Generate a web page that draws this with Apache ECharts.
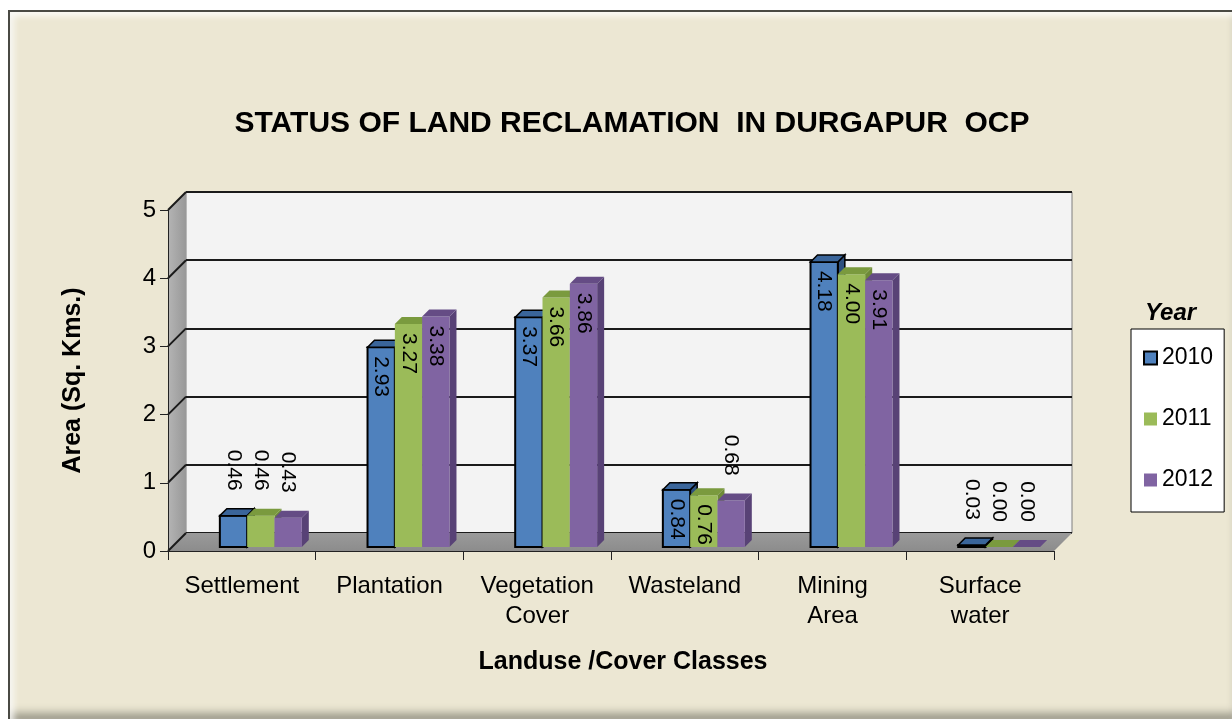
<!DOCTYPE html>
<html>
<head>
<meta charset="utf-8">
<script src="https://cdn.jsdelivr.net/npm/echarts@6/dist/echarts.min.js"></script>
<style>
  html, body { margin: 0; padding: 0; background: #fff; }
  #frame {
    position: absolute; left: 8px; top: 10px; width: 1224px; height: 709px;
    box-sizing: border-box;
    background: #ECE7D3;
    border-top: 2px solid #4a4a44; border-left: 2px solid #4a4a44;
    box-shadow: inset 4px 4px 6px rgba(255,255,255,0.8), inset 0 -10px 8px -4px rgba(60,60,50,0.45);
  }
  #main { position: absolute; left: 0; top: 0; width: 1232px; height: 719px; }
</style>
</head>
<body>
<div id="frame"></div>
<div id="main"></div>
<script>
// data
const categories = ['Settlement', 'Plantation', 'Vegetation\nCover', 'Wasteland', 'Mining\nArea', 'Surface\nwater']
const years = ['2010', '2011', '2012']
const area2010 = [0.46, 2.93, 3.37, 0.84, 4.18, 0.03]
const area2011 = [0.46, 3.27, 3.66, 0.76, 4.0, 0.0]
const area2012 = [0.43, 3.38, 3.86, 0.68, 3.91, 0.0]
const yMin = 0, yMax = 5, yStep = 1

// layout of the 3d box (front plane, back wall is shifted by DEPTH)
const FRONT = { left: 168, top: 210, width: 886, height: 341 }
const DEPTH = 18
const FONT = 'Arial, "Liberation Sans", sans-serif'

// face colours: front, top, side
const palette = [
  { front: '#4F81BD', top: '#3A659A', side: '#2E5180', stroke: '#000' },
  { front: '#9BBB59', top: '#7A9A3E', side: '#6E8A38', stroke: null },
  { front: '#8064A2', top: '#654C85', side: '#584276', stroke: null },
]

function makeRender(k) {
  const c = palette[k]
  return function (params, api) {
    const cat = api.value(0)
    const v = api.value(1)
    const base = api.coord([cat, 0])
    const top = api.coord([cat, v])
    const band = api.size([1, 0])[0]
    const w = band * 0.185
    const d = 7
    const x0 = base[0] + 19 - 1.5 * w + k * w
    const yb = base[1] - 4
    const yt = top[1] - 4
    const children = []
    // side face
    children.push({ type: 'polygon', shape: { points: [[x0 + w, yt], [x0 + w + d, yt - d], [x0 + w + d, yb - d], [x0 + w, yb]] },
      style: { fill: c.side, stroke: c.stroke, lineWidth: c.stroke ? 1.5 : 0 } })
    // front face
    children.push({ type: 'rect', shape: { x: x0, y: yt, width: w, height: yb - yt },
      style: { fill: c.front, stroke: c.stroke, lineWidth: c.stroke ? 2 : 0 } })
    // top face
    children.push({ type: 'polygon', shape: { points: [[x0, yt], [x0 + d, yt - d], [x0 + w + d, yt - d], [x0 + w, yt]] },
      style: { fill: c.top, stroke: c.stroke, lineWidth: c.stroke ? 1.5 : 0 } })
    // value label, vertical, reading top to bottom
    const outside = v < 0.7
    children.push({
      type: 'text',
      x: x0 + w / 2,
      y: outside ? yt - 25 : yt + 9,
      rotation: -Math.PI / 2,
      style: {
        text: v.toFixed(2), fill: '#000', font: '21px ' + FONT,
        align: outside ? 'right' : 'left', verticalAlign: 'middle',
        textAlign: outside ? 'right' : 'left', textVerticalAlign: 'middle',
      },
    })
    return { type: 'group', children: children }
  }
}

const seriesData = [area2010, area2011, area2012]

const chart = echarts.init(document.getElementById('main'))
const option = {
  backgroundColor: 'transparent',
  animation: false,
  textStyle: { fontFamily: FONT },
  title: [
    {
      text: 'STATUS OF LAND RECLAMATION  IN DURGAPUR  OCP',
      left: 627, top: 104, textAlign: 'center',
      textStyle: { fontSize: 30, fontWeight: 'bold', color: '#000', fontFamily: FONT },
    },
    {
      text: 'Year', left: 1140, top: 296,
      textStyle: { fontSize: 24, fontWeight: 'bold', fontStyle: 'italic', color: '#000', fontFamily: FONT },
    },
  ],
  legend: {
    orient: 'vertical',
    left: 1131, top: 329,
    backgroundColor: '#fff', borderColor: '#000', borderWidth: 1,
    padding: [17, 11, 20, 12],
    itemWidth: 13, itemHeight: 13, itemGap: 37,
    icon: 'rect',
    textStyle: { fontSize: 23, lineHeight: 24, color: '#000', fontFamily: FONT },
    data: [
      { name: '2010', itemStyle: { borderColor: '#000', borderWidth: 2 } },
      { name: '2011' },
      { name: '2012' },
    ],
  },
  grid: [
    // back wall
    { left: FRONT.left + DEPTH, top: FRONT.top - DEPTH, width: FRONT.width, height: FRONT.height,
      show: true, backgroundColor: '#F3F3F3', borderColor: '#7f7f7f', borderWidth: 1 },
    // front plane
    { left: FRONT.left, top: FRONT.top, width: FRONT.width, height: FRONT.height },
  ],
  xAxis: [
    { gridIndex: 0, type: 'category', data: categories, show: false },
    {
      gridIndex: 1, type: 'category', data: categories, z: 5,
      axisLine: { lineStyle: { color: '#222', width: 1 } },
      axisTick: { show: true, length: 9, lineStyle: { color: '#222' } },
      axisLabel: { fontSize: 24, lineHeight: 30, color: '#000', margin: 20, interval: 0, fontFamily: FONT },
      name: 'Landuse /Cover Classes', nameLocation: 'middle', nameGap: 99,
      nameTextStyle: { fontSize: 25, fontWeight: 'bold', color: '#000', padding: [0, 0, 0, 24], fontFamily: FONT },
    },
  ],
  yAxis: [
    {
      gridIndex: 0, type: 'value', min: yMin, max: yMax, interval: yStep,
      axisLine: { show: false }, axisTick: { show: false }, axisLabel: { show: false },
      splitLine: { show: true, lineStyle: { color: '#1a1a1a', width: 2 } },
    },
    {
      gridIndex: 1, type: 'value', min: yMin, max: yMax, interval: yStep, z: 5,
      axisLine: { show: true, lineStyle: { color: '#222', width: 1 } },
      axisTick: { show: true, length: 8, lineStyle: { color: '#222' } },
      axisLabel: { fontSize: 24, color: '#000', margin: 12, fontFamily: FONT },
      splitLine: { show: false },
      name: 'Area (Sq. Kms.)', nameLocation: 'middle', nameGap: 82,
      nameTextStyle: { fontSize: 25, fontWeight: 'bold', color: '#000', fontFamily: FONT },
    },
  ],
  series: seriesData.map(function (arr, k) {
    return {
      name: years[k],
      type: 'custom',
      xAxisIndex: 1, yAxisIndex: 1,
      itemStyle: { color: palette[k].front },
      renderItem: makeRender(k),
      encode: { x: 0, y: 1 },
      data: arr.map(function (v, i) { return [i, v] }),
      z: 3,
    }
  }),
}
chart.setOption(option)

// floor and left wall of the 3d box, placed from the front axes
const y0 = chart.convertToPixel({ yAxisIndex: 1 }, yMin)
const yTop = chart.convertToPixel({ yAxisIndex: 1 }, yMax)
const xL = FRONT.left, xR = FRONT.left + FRONT.width
const wallLines = []
for (let v = yMin; v <= yMax; v += yStep) {
  const y = chart.convertToPixel({ yAxisIndex: 1 }, v)
  wallLines.push({ type: 'line', z: 2, shape: { x1: xL, y1: y, x2: xL + DEPTH, y2: y - DEPTH },
    style: { stroke: '#1a1a1a', lineWidth: 2 } })
}
chart.setOption({
  graphic: [
    { type: 'polygon', z: 1,
      shape: { points: [[xL, yTop], [xL + DEPTH, yTop - DEPTH], [xL + DEPTH, y0 - DEPTH], [xL, y0]] },
      style: { fill: new echarts.graphic.LinearGradient(0, 0, 1, 0, [
        { offset: 0, color: '#B4B4B4' }, { offset: 1, color: '#989898' }]) } },
    { type: 'polygon', z: 1,
      shape: { points: [[xL, y0], [xL + DEPTH, y0 - DEPTH], [xR + DEPTH, y0 - DEPTH], [xR, y0]] },
      style: { fill: new echarts.graphic.LinearGradient(0, 0, 0, 1, [
        { offset: 0, color: '#9a9a9a' }, { offset: 1, color: '#8c8c8c' }]) } },
  ].concat(wallLines),
})
</script>
</body>
</html>
